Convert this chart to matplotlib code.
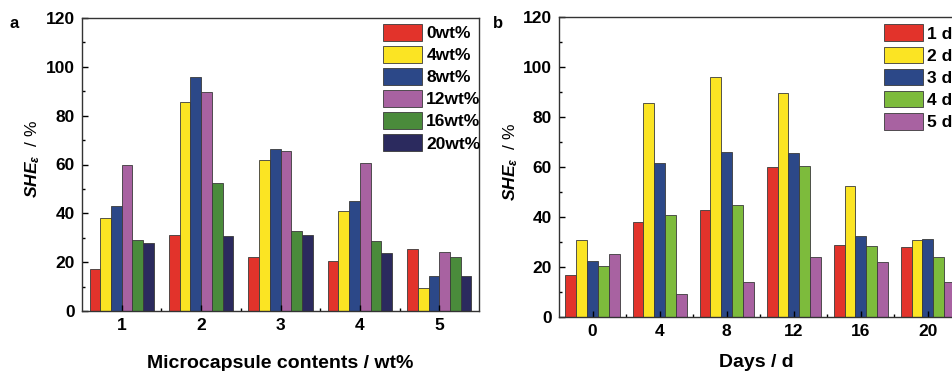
import numpy as np
import matplotlib
matplotlib.use("Agg")
from matplotlib import pyplot as plt

# data
groups_a = [1, 2, 3, 4, 5]
series_a = ["0wt%", "4wt%", "8wt%", "12wt%", "16wt%", "20wt%"]
she_0wt = [17.0, 31.0, 22.3, 20.3, 25.2]
she_4wt = [38.2, 85.5, 61.8, 40.9, 9.4]
she_8wt = [43.0, 96.0, 66.2, 45.0, 14.2]
she_12wt = [60.0, 89.8, 65.5, 60.6, 24.0]
she_16wt = [28.9, 52.4, 32.6, 28.6, 22.0]
she_20wt = [28.0, 30.8, 31.3, 23.9, 14.2]

days_b = [0, 4, 8, 12, 16, 20]
series_b = ["1 d", "2 d", "3 d", "4 d", "5 d"]

colors_a = ["#e2332b", "#fbe423", "#2c4888", "#a862a1", "#4a8b3b", "#2b2a5e"]
colors_b = ["#e2332b", "#fbe423", "#2c4888", "#7dbb3c", "#a862a1"]
edge = "#3a3a3a"

plt.rcParams['font.family'] = ['Liberation Sans', 'DejaVu Sans']
plt.rcParams['font.weight'] = 'bold'
plt.rcParams['mathtext.fontset'] = 'custom'
plt.rcParams['mathtext.it'] = 'Liberation Sans:italic:bold'
plt.rcParams['mathtext.rm'] = 'Liberation Sans:bold'

W, H = 953, 371
fig = plt.figure(figsize=(W / 100, H / 100), dpi=100)


def px_axes(left, right, top, bottom):
    return fig.add_axes([left / W, (H - bottom) / H, (right - left) / W, (bottom - top) / H])


def style(ax):
    ax.tick_params(axis='both', which='major', direction='in', length=4, width=1,
                   labelsize=12.5, pad=5)
    ax.tick_params(axis='both', which='minor', direction='in', length=2.5, width=1)
    for s in ax.spines.values():
        s.set_linewidth(1.0)
        s.set_color("#333333")
    for lab in ax.get_xticklabels() + ax.get_yticklabels():
        lab.set_fontweight('bold')


leg_kw = dict(loc='upper left', frameon=False, fontsize=12.5, handlelength=2.25,
              handleheight=1.1, labelspacing=0.28, handletextpad=0.25,
              borderpad=0, borderaxespad=0)

# ---------------- panel a ----------------
ax1 = px_axes(82, 479, 18, 311)
vals_a = np.array([she_0wt, she_4wt, she_8wt, she_12wt, she_16wt, she_20wt])
x = np.array(groups_a, dtype=float)
bw = 0.135
for i, name in enumerate(series_a):
    ax1.bar(x + (i - 2.5) * bw, vals_a[i], bw, color=colors_a[i], edgecolor=edge,
            linewidth=0.6, label=name)
ax1.set_xlim(0.5, 5.5)
ax1.set_ylim(0, 120)
ax1.set_xticks(groups_a)
ax1.set_xticks(np.arange(1.5, 5.5, 1), minor=True)
ax1.set_yticks(np.arange(0, 121, 20))
ax1.set_yticks(np.arange(10, 120, 20), minor=True)
style(ax1)
ax1.set_ylabel(r'$SHE_{\varepsilon}$  / %', fontsize=12.5)
ax1.yaxis.set_label_coords(-0.10, 0.52)
ax1.set_xlabel('Microcapsule contents / wt%', fontsize=14, fontweight='bold', labelpad=16)
ax1.legend(bbox_to_anchor=(0.758, 0.98), **leg_kw)
fig.text(14 / W, 1 - 23 / H, 'a', fontsize=12, fontweight='bold', va='center', ha='center')

# ---------------- panel b ----------------
ax2 = px_axes(559, 953, 17, 317)
vals_b = vals_a.T
xb = np.array(days_b, dtype=float)
bwb = 0.645
for i, name in enumerate(series_b):
    ax2.bar(xb + (i - 2) * bwb, vals_b[i], bwb, color=colors_b[i], edgecolor=edge,
            linewidth=0.6, label=name)
ax2.set_xlim(-2, 21.5)
ax2.set_ylim(0, 120)
ax2.set_xticks(days_b)
ax2.set_xticks(np.arange(2, 22, 4), minor=True)
ax2.set_yticks(np.arange(0, 121, 20))
ax2.set_yticks(np.arange(10, 120, 20), minor=True)
style(ax2)
ax2.spines['right'].set_visible(False)
ax2.set_ylabel(r'$SHE_{\varepsilon}$  / %', fontsize=12.5)
ax2.yaxis.set_label_coords(-0.099, 0.517)
ax2.set_xlabel('Days / d', fontsize=14, fontweight='bold', labelpad=11)
ax2.legend(bbox_to_anchor=(0.825, 0.975), **leg_kw)
fig.text(498 / W, 1 - 23 / H, 'b', fontsize=12, fontweight='bold', va='center', ha='center')

fig.savefig('out.png', dpi=100)
